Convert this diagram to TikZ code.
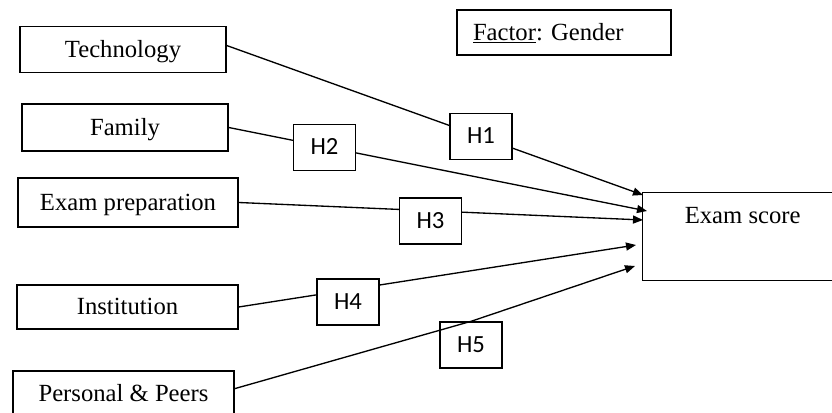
\documentclass[tikz,border=0pt]{standalone}
\usepackage{fontspec}
\setmainfont{Liberation Serif}
\newfontfamily\hfont{Carlito}
\usetikzlibrary{arrows.meta}

\begin{document}
\begin{tikzpicture}[x=0.75pt, y=-0.75pt, line width=1pt,
  every node/.style={font=\fontsize{18.5}{21}\selectfont},
  srcbox/.style={draw, minimum height=34.5pt, inner sep=0pt, text height=12pt, text depth=0pt},
  hbox/.style={draw, fill=white, minimum width=46.5pt, minimum height=34.5pt,
    inner sep=0pt, text height=11pt, text depth=0pt, font=\hfont\fontsize{18.5}{21}\selectfont},
  conn/.style={-{Triangle[length=7.5pt,width=6pt]}}]
  \useasboundingbox (0,0) rectangle (832,413);
  % influencing factors on the left
  \node[srcbox, minimum width=154.5pt] (tech) at (123,49.5) {Technology};
  \node[srcbox, minimum width=154.5pt, minimum height=35.25pt] (fam) at (125,127.5) {Family};
  \node[srcbox, minimum width=165pt, minimum height=36.75pt] (prep) at (128,202.5) {Exam preparation};
  \node[srcbox, minimum width=165.75pt, minimum height=33pt] (inst) at (127.5,307) {Institution};
  \node[srcbox, minimum width=165.75pt] (peer) at (123.5,394) {Personal \& Peers};
  % moderator
  \node[draw, inner xsep=12pt, text width=136.5pt, align=left, minimum height=33.75pt,
    text height=12pt, text depth=0pt]
    (factor) at (564,32.5) {\frenchspacing\underline{Factor}: Gender};
  % outcome (runs off the right edge)
  \node[draw, anchor=north west, minimum width=150pt, inner ysep=11.25pt,
    text height=12pt, text depth=31.5pt] (score) at (642,192) {Exam score};
  % where the arrows end
  \coordinate (t1) at (643,195);
  \coordinate (t2) at (647,211);
  \coordinate (t3) at (643,220);
  \coordinate (t4) at (636,245);
  \coordinate (t5) at (635,266);
  % hypotheses, the H boxes sit on top of the lines
  \draw[conn] ([yshift=3pt]tech.east) -- (t1);
  \draw[conn] (fam.east) -- (t2);
  \draw[conn] (prep.east) -- (t3);
  \draw[conn] (inst.east) -- (t4);
  \node[hbox] (h1) at (481,136.5) {H1};
  \node[hbox] (h2) at (324.5,147.5) {H2};
  \node[hbox] (h3) at (430.5,221) {H3};
  \node[hbox] (h4) at (348,302) {H4};
  \node[hbox] (h5) at (471,345) {H5};
  \draw[conn] ([yshift=4pt]peer.east) -- (h5.north) -- (t5);
\end{tikzpicture}
\end{document}
